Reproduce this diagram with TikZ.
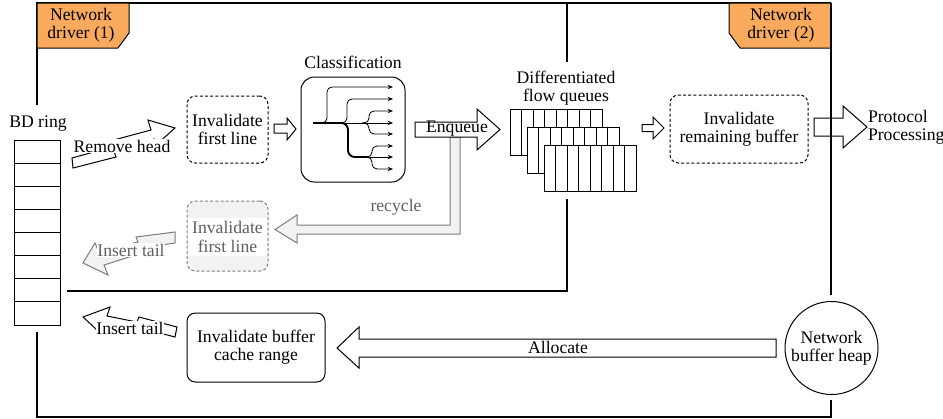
\documentclass[tikz,border=0pt]{standalone}
\usepackage{fontspec}
\setmainfont{Liberation Serif}
\usetikzlibrary{arrows.meta}
\definecolor{tagorange}{RGB}{250,170,92}
\definecolor{lgray}{RGB}{242,242,242}
\definecolor{mgray}{RGB}{125,125,125}
\definecolor{tgray}{RGB}{95,95,95}
\tikzset{
  frame/.style={line width=0.65pt},
  lbl/.style={font=\fontsize{10.6}{11}\selectfont, align=center, inner sep=1pt},
  procbox/.style={draw, line width=0.6pt, rounded corners=5pt, lbl},
  dashbox/.style={procbox, dash pattern=on 1.8pt off 1.3pt},
  blockarrow/.style={draw, line width=0.6pt, fill=white, line join=miter},
  grayarrow/.style={draw=mgray, line width=0.6pt, fill=lgray, line join=miter},
  cell/.style={draw, line width=0.55pt, fill=white},
  tag/.style={draw, line width=0.6pt, fill=tagorange},
  tree/.style={line width=0.5pt, rounded corners=3pt},
  treetip/.style={-{Stealth[length=3.2pt,width=2.6pt]}},
}
\begin{document}
\begin{tikzpicture}[x=0.6pt,y=-0.6pt]
\useasboundingbox (0,0) rectangle (943,418);

% ---------------- frame lines
\draw[frame] (37,105) -- (37,3) -- (831,3);
\draw[frame] (37,332) -- (37,417) -- (831,417) -- (831,400);
\draw[frame] (567,3) -- (567,62);
\draw[frame] (567,199) -- (567,291) -- (67,291);

% ---------------- driver tags
\draw[tag] (37,3) -- (129,3) -- (129,33) -- (118,48) -- (37,48) -- cycle;
\node[lbl] (tag1) at (81,25) {Network\\driver (1)};
\draw[tag] (729,3) -- (831,3) -- (831,48) -- (740,48) -- (729,33) -- cycle;
\node[lbl] (tag2) at (781,25) {Network\\driver (2)};

% ---------------- BD ring
\node[lbl] (bdlabel) at (38,124) {BD ring};
\foreach \i in {0,...,7}
  \draw[cell] (14,{140+23.125*\i}) rectangle ++(46,23.125);
\coordinate (ring) at (37,232);

% ---------------- Remove head (lightning arrow)
\draw[blockarrow] (72,158) -- (112,147) -- (110,141) -- (151,130) -- (148,120)
  -- (175,128) -- (156,145) -- (154,139) -- (114,151) -- (116,157) -- (73,168) -- cycle;
\node[lbl, fill=white, inner sep=0.5pt] (removehead) at (122,146) {Remove head};

% ---------------- Invalidate first line (1)
\node[dashbox, minimum width={81*0.6pt}, minimum height={67*0.6pt}] (inv1) at (227.5,129.5) {Invalidate\\first line};

% small arrow inv1 -> classification
\draw[blockarrow] (274,124) -- (287,124) -- (287,118) -- (296,129) -- (287,140) -- (287,133) -- (274,133) -- cycle;

% ---------------- Classification
\node[lbl] (classtitle) at (353,62) {Classification};
\node[draw, line width=0.6pt, rounded corners=8pt, minimum width={104*0.6pt}, minimum height={105*0.6pt}] (class) at (353,129.5) {};
% tree
\draw[line width=1.1pt] (313,123) -- (342,123);
\draw[line width=1.1pt, rounded corners=4pt] (340,123) -| (348,157) -- (367,157);
\draw[tree, treetip] (320,123) -| (327,87) -- (393,87);
\draw[tree, treetip] (339,123) -| (347,99) -- (393,99);
\draw[tree, treetip] (342,123) -- (393,123);
\draw[tree, treetip] (362,123) -| (369,111) -- (393,111);
\draw[tree, treetip] (362,123) -| (369,134) -- (393,134);
\draw[tree, treetip] (365,157) -- (393,157);
\draw[tree, treetip] (365,157) -| (372,146) -- (393,146);
\draw[tree, treetip] (365,157) -| (372,169) -- (393,169);

% ---------------- recycle (gray) arrow
\draw[grayarrow] (460,137) -- (460,234) -- (297,234) -- (297,243) -- (275,229.5)
  -- (297,215) -- (297,225) -- (450,225) -- (450,137) -- cycle;
\node[lbl, text=tgray] (recycle) at (396,207) {recycle};

% ---------------- Enqueue arrow
\draw[blockarrow] (415,122) -- (477,122) -- (477,109) -- (500,129.5) -- (477,150) -- (477,137) -- (415,137) -- cycle;
\node[lbl, inner sep=0pt] (enqueue) at (457,129) {Enqueue};

% ---------------- Differentiated flow queues
\node[lbl] (queuetitle) at (566,88) {Differentiated\\flow queues};
\foreach \q in {0,1,2} {
  \draw[cell] ({510+17*\q},{109+18*\q}) rectangle ++(92,46);
  \foreach \c in {1,...,7}
    \draw[line width=0.55pt] ({510+17*\q+11.5*\c},{109+18*\q}) -- ++(0,46);
}

% small arrow queues -> remaining
\draw[blockarrow] (642,124.5) -- (653,124.5) -- (653,117) -- (664,128) -- (653,139) -- (653,131.5) -- (642,131.5) -- cycle;

% ---------------- Invalidate remaining buffer
\node[dashbox, minimum width={138*0.6pt}, minimum height={68*0.6pt}] (remain) at (739,129) {Invalidate\\remaining buffer};

% ---------------- Protocol processing arrow
\draw[blockarrow] (814,118) -- (843,118) -- (843,106) -- (867,127) -- (843,148) -- (843,136) -- (814,136) -- cycle;
\node[lbl, align=left, anchor=west] (proto) at (866,127) {Protocol\\Processing};
\draw[frame] (831,3) -- (831,295);

% ---------------- gray Insert tail (lightning arrow)
\draw[grayarrow] (83,263) -- (95,243) -- (99,252) -- (138,242) -- (136,237) -- (175,232)
  -- (175,243) -- (140,248) -- (142,253) -- (104,265) -- (108,275) -- cycle;
\node[lbl, text=tgray, fill=white, inner sep=0.5pt] (instail1) at (131,250) {Insert tail};

% ---------------- gray Invalidate first line (2)
\node[dashbox, draw=mgray, fill=lgray, minimum width={81*0.6pt}, minimum height={70*0.6pt}] (inv2) at (227.5,236) {};
\node[lbl, text=tgray, fill=white, minimum width={79*0.6pt}, inner ysep=2pt] (inv2text) at (227.5,237) {Invalidate\\first line};

% ---------------- black Insert tail (lightning arrow)
\draw[blockarrow] (83,317) -- (110,307) -- (107,316) -- (137,322) -- (139,317) -- (177,327)
  -- (175,337) -- (141,328) -- (139,333) -- (100,324) -- (97,330) -- cycle;
\node[lbl, fill=white, inner sep=0.5pt] (instail2) at (130,328) {Insert tail};

% ---------------- Invalidate buffer cache range
\node[procbox, minimum width={138*0.6pt}, minimum height={69*0.6pt}] (cache) at (256,347.5) {Invalidate buffer\\cache range};

% ---------------- Allocate arrow
\draw[blockarrow] (776,339) -- (359,339) -- (359,327) -- (337,348) -- (359,368) -- (359,357) -- (776,357) -- cycle;
\node[lbl, inner sep=0pt] (allocate) at (558,347) {Allocate};

% ---------------- Network buffer heap
\node[draw, circle, line width=0.6pt, minimum size={93*0.6pt}, lbl, inner sep=0pt] (heap) at (831.5,348) {Network\\buffer heap};

\end{tikzpicture}
\end{document}
